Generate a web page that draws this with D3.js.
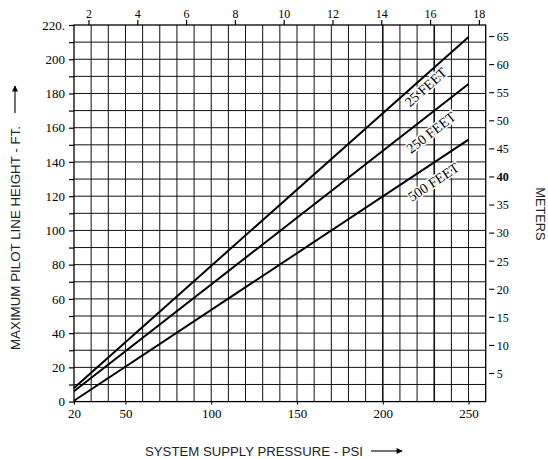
<!DOCTYPE html>
<html><head><meta charset="utf-8">
<script src="https://cdn.jsdelivr.net/npm/d3@7"></script>
<style>body{margin:0;background:#fff}svg{display:block}</style>
</head><body>
<script>
// Data
const pressure = [20, 250];
const feet25 = [8, 213];
const feet250 = [6, 185.5];
const feet500 = [0.5, 153];
const seriesNames = ["25 FEET", "250 FEET", "500 FEET"];
const xTickLabels = [20, 50, 100, 150, 200, 250];
const yTickLabels = [0, 20, 40, 60, 80, 100, 120, 140, 160, 180, 200, 220];
const topTickLabels = [2, 4, 6, 8, 10, 12, 14, 16, 18];
const rightTickLabels = [5, 10, 15, 20, 25, 30, 35, 40, 45, 50, 55, 60, 65];
const PSI_PER_KG = 14.2233, FT_PER_M = 3.28084;

(function () {
const W = 548, H = 459;
const svg = d3.select("body").append("svg").attr("width", W).attr("height", H);
const x = d3.scaleLinear().domain([20, 260]).range([74, 485.7]);
const y = d3.scaleLinear().domain([0, 220]).range([401.6, 25]);

const serif = "'Liberation Serif', 'Times New Roman', serif";
const sans = "'Liberation Sans', Arial, sans-serif";

// grid
const g = svg.append("g");
g.selectAll(".vg").data(d3.range(30, 260, 10)).join("line")
  .attr("x1", d => x(d)).attr("x2", d => x(d)).attr("y1", y(0)).attr("y2", y(220))
  .attr("stroke", "#111").attr("stroke-width", d => (d === 200 || d === 230) ? 1.6 : 1);
g.selectAll(".hg").data(d3.range(10, 220, 10)).join("line")
  .attr("y1", d => y(d)).attr("y2", d => y(d)).attr("x1", x(20)).attr("x2", x(260))
  .attr("stroke", "#111").attr("stroke-width", 1);
// frame
svg.append("rect").attr("x", x(20)).attr("y", y(220)).attr("width", x(260) - x(20)).attr("height", y(0) - y(220))
  .attr("fill", "none").attr("stroke", "#000").attr("stroke-width", 1.3);

// left axis
const leftAxis = d3.axisLeft(y).tickValues(d3.range(0, 230, 10)).tickSize(5)
  .tickFormat(d => yTickLabels.includes(d) ? (d === 220 ? "220." : d) : "");
svg.append("g").attr("transform", `translate(${x(20)},0)`).call(leftAxis)
  .call(s => { s.select(".domain").remove(); s.selectAll("line").attr("stroke", "#000").attr("stroke-width", 1.2);
    s.selectAll("text").attr("font-family", serif).attr("font-size", 13).attr("fill", "#000").attr("dx", -1); });

// bottom axis
const bottomAxis = d3.axisBottom(x).tickValues(xTickLabels).tickSize(3).tickPadding(4);
svg.append("g").attr("transform", `translate(0,${y(0)})`).call(bottomAxis)
  .call(s => { s.select(".domain").remove(); s.selectAll("line").attr("stroke", "#000");
    s.selectAll("text").attr("font-family", serif).attr("font-size", 13).attr("fill", "#000"); });

// top axis (kg/cm2)
const xTop = d3.scaleLinear().domain([0, 260 / PSI_PER_KG]).range([x(0), x(260)]);
const topAxis = d3.axisTop(xTop).tickValues(topTickLabels).tickSize(5).tickPadding(2);
svg.append("g").attr("transform", `translate(0,${y(220)})`).call(topAxis)
  .call(s => { s.select(".domain").remove(); s.selectAll("line").attr("stroke", "#000").attr("stroke-width", 1.2);
    s.selectAll("text").attr("font-family", serif).attr("font-size", 12).attr("fill", "#000"); });

// right axis (meters)
const yRight = d3.scaleLinear().domain([0, 220 / FT_PER_M]).range([y(0), y(220)]);
const rightAxis = d3.axisRight(yRight).tickValues(rightTickLabels).tickSize(0).tickPadding(11);
const rg = svg.append("g").attr("transform", `translate(${x(260)},0)`).call(rightAxis)
  .call(s => { s.select(".domain").remove();
    s.selectAll("text").attr("font-family", serif).attr("font-size", 12).attr("fill", "#000")
      .attr("font-weight", d => d === 40 ? "bold" : "normal"); });
rg.selectAll(".rt").data(rightTickLabels).join("line")
  .attr("x1", 3.5).attr("x2", 8.5).attr("y1", d => yRight(d)).attr("y2", d => yRight(d))
  .attr("stroke", "#000").attr("stroke-width", 1.1);

// series lines
const series = [feet25, feet250, feet500];
const line = d3.line().x((d, i) => x(pressure[i])).y(d => y(d));
svg.selectAll(".ser").data(series).join("path")
  .attr("d", d => line(d)).attr("fill", "none").attr("stroke", "#000").attr("stroke-width", 2);

// series labels
const labelPsi = [225, 228, 229.5];
const labelOffset = [12, 19, 19];
series.forEach((s, i) => {
  const f = p => s[0] + (s[1] - s[0]) * (p - pressure[0]) / (pressure[1] - pressure[0]);
  const p = labelPsi[i];
  const px = x(p), py = y(f(p)) + labelOffset[i];
  const ang = Math.atan2(y(s[1]) - y(s[0]), x(pressure[1]) - x(pressure[0])) * 180 / Math.PI;
  svg.append("text").attr("transform", `translate(${px},${py}) rotate(${ang})`)
    .attr("text-anchor", "middle").attr("dy", "0.35em")
    .attr("font-family", serif).attr("font-size", 14).attr("fill", "#000")
    .attr("stroke", "#fff").attr("stroke-width", 3).attr("paint-order", "stroke")
    .text(seriesNames[i]);
});

// arrow marker
svg.append("defs").append("marker").attr("id", "ah").attr("viewBox", "0 0 10 10")
  .attr("refX", 9).attr("refY", 5).attr("markerWidth", 10).attr("markerHeight", 6)
  .attr("markerUnits", "userSpaceOnUse").attr("orient", "auto")
  .append("path").attr("d", "M0,0 L10,5 L0,10 Z").attr("fill", "#000");

// left title
svg.append("text").attr("transform", "translate(19.5,238) rotate(-90)").attr("text-anchor", "middle")
  .attr("font-family", sans).attr("font-size", 12).attr("fill", "#222")
  .attr("textLength", 224).attr("lengthAdjust", "spacingAndGlyphs").text("MAXIMUM PILOT LINE HEIGHT - FT.");
svg.append("line").attr("x1", 15).attr("x2", 15).attr("y1", 113).attr("y2", 86)
  .attr("stroke", "#000").attr("stroke-width", 1.1).attr("marker-end", "url(#ah)");

// bottom title
svg.append("text").attr("x", 254).attr("y", 455.5).attr("text-anchor", "middle")
  .attr("font-family", sans).attr("font-size", 12).attr("fill", "#222")
  .attr("textLength", 218).attr("lengthAdjust", "spacingAndGlyphs").text("SYSTEM SUPPLY PRESSURE - PSI");
svg.append("line").attr("x1", 371).attr("x2", 402).attr("y1", 451).attr("y2", 451)
  .attr("stroke", "#000").attr("stroke-width", 1.1).attr("marker-end", "url(#ah)");

// right title
svg.append("text").attr("transform", "translate(536,214) rotate(90)").attr("text-anchor", "middle")
  .attr("font-family", sans).attr("font-size", 12).attr("fill", "#222")
  .attr("textLength", 53).attr("lengthAdjust", "spacingAndGlyphs").text("METERS");
})();
</script>
</body></html>
